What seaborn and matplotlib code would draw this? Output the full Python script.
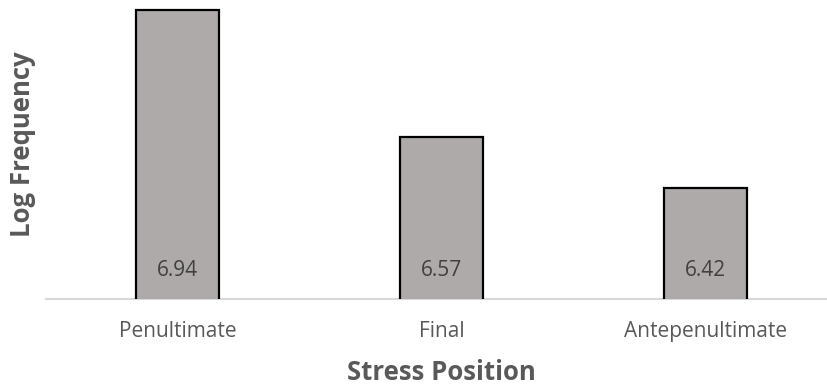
import matplotlib
matplotlib.use("Agg")
import matplotlib.pyplot as plt
import seaborn as sns
import pandas as pd

# Mean log frequency by stress position
positions = ["Penultimate", "Final", "Antepenultimate"]
log_freq = [6.94, 6.57, 6.42]

df = pd.DataFrame({"position": positions, "log_freq": log_freq})

sns.set_theme(style="white")
plt.rcParams["font.family"] = ["Open Sans", "DejaVu Sans"]

W, H = 827, 388
fig = plt.figure(figsize=(W / 100, H / 100), dpi=100)
ax = fig.add_axes([45.5 / W, (H - 298.5) / H, 792 / W, 290.5 / H])

sns.barplot(data=df, x="position", y="log_freq", order=positions,
            color="#AEAAA9", edgecolor="black", linewidth=1.6,
            width=0.316, saturation=1, ax=ax)

# value axis starts at 6.1, as in the original chart
ax.set_ylim(6.1, 6.945)
ax.set_xlim(-0.5, 2.5)

# value labels near the base of each bar
for i, v in enumerate(log_freq):
    ax.annotate(f"{v:.2f}", xy=(i, 6.1), xytext=(0, 20), textcoords="offset points",
                ha="center", va="center", fontsize=15, color="#404040")

for s in ["top", "right", "left"]:
    ax.spines[s].set_visible(False)
ax.spines["bottom"].set_color("#D9D9D9")
ax.spines["bottom"].set_linewidth(1.5)
ax.spines["bottom"].set_zorder(0.5)
ax.set_yticks([])
ax.tick_params(axis="x", length=0, pad=16, labelsize=15, labelcolor="#595959")

ax.set_xlabel("")
ax.set_ylabel("")
fig.text(441.5 / W, 1 - 372 / H, "Stress Position", ha="center", va="center",
         fontsize=18.5, fontweight="bold", color="#595959")
fig.text(23 / W, 1 - 144 / H, "Log Frequency", ha="center", va="center",
         rotation=90, fontsize=18.5, fontweight="bold", color="#595959")

fig.savefig("out.png", dpi=100)
